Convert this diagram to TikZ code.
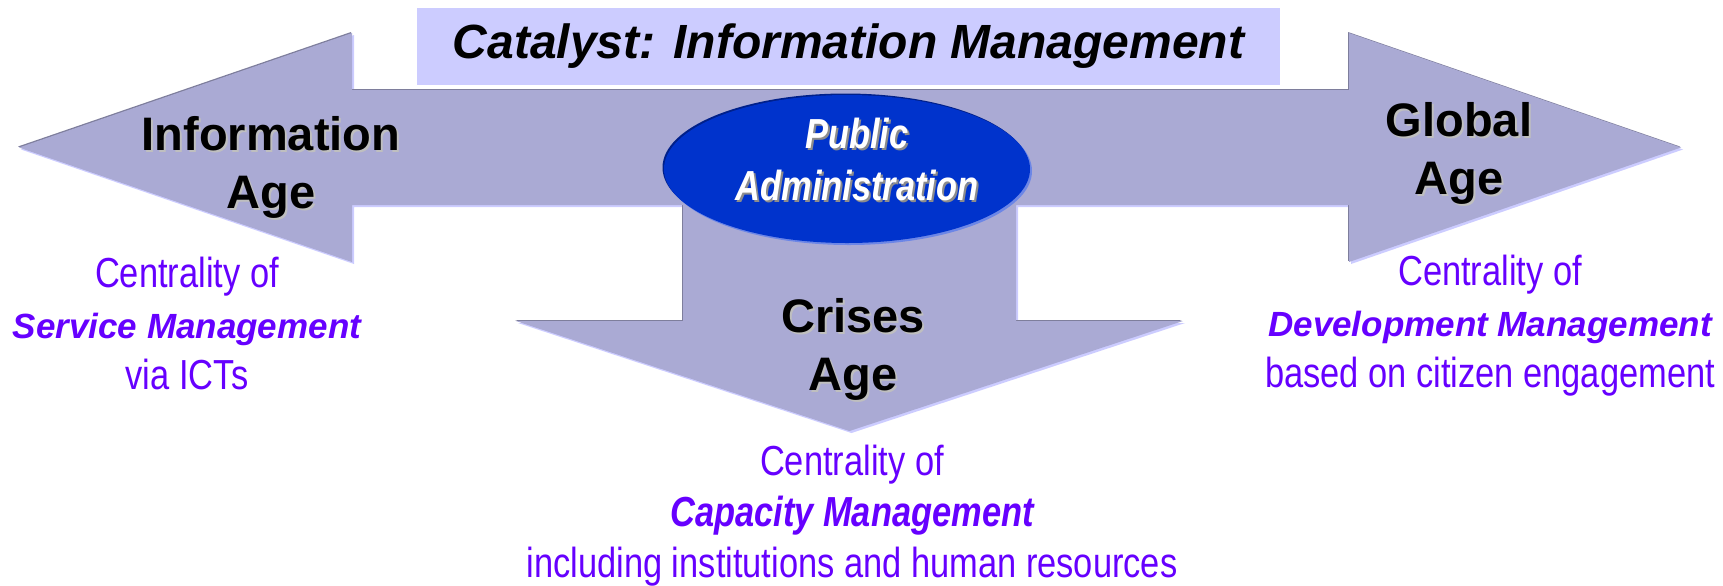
\documentclass[tikz,border=0pt]{standalone}
\usepackage{fontspec}
\setmainfont{Liberation Sans}
\newfontfamily\narrowfont[FakeStretch=0.82]{Liberation Sans}
\usetikzlibrary{shapes.geometric}
\definecolor{arrowfill}{HTML}{AAAAD4}
\definecolor{arrowdark}{HTML}{7E7E9C}
\definecolor{arrowlight}{HTML}{CCCCFF}
\definecolor{titlebox}{HTML}{CCCCFF}
\definecolor{pablue}{HTML}{0033CC}
\definecolor{padark}{HTML}{00208A}
\definecolor{palight}{HTML}{6C86E6}
\definecolor{centviolet}{HTML}{6600FF}
\tikzset{
  agetext/.style={align=center, inner sep=0pt, font=\fontsize{23.5}{29}\selectfont\bfseries},
  padtext/.style={align=center, inner sep=0pt, font=\narrowfont\fontsize{21}{26}\selectfont\bfseries\itshape},
  centtext/.style={align=center, inner sep=0pt, text=centviolet, font=\narrowfont\fontsize{21}{25.5}\selectfont},
}

\begin{document}
\begin{tikzpicture}[x=0.5pt, y=-0.5pt]
\useasboundingbox (0,0) rectangle (1723,585);
% the three-way arrow
\foreach \dx/\dy/\col in {2/2/arrowlight, -1/-1/arrowdark, 0/0/arrowfill} {
    \fill[\col, shift={(\dx,\dy)}] (19,147.5) -- (352,33) -- (352,90) -- (1349,90) -- (1349,33)
        -- (1681,147.5) -- (1349,262) -- (1349,205) -- (1016,205) -- (1016,321) -- (1183,321)
        -- (849.5,431) -- (516,321) -- (683,321) -- (683,205) -- (352,205) -- (352,262) -- cycle;
}
\node[fill=titlebox, minimum width=431.5pt, minimum height=38.5pt, inner sep=0pt,
      font=\fontsize{24}{29}\selectfont\bfseries\itshape] (catalyst) at (848.5,46.5) {Catalyst: Information Management};
% public administration
\foreach \dx/\col in {2/palight, -1.5/padark, 0/pablue} {
    \fill[\col, shift={(\dx,\dx)}] (847,169) ellipse [x radius=183, y radius=74];
}
\node[padtext, text=black!45, shift={(2,2)}] (pubadmin-sh) at (857,159) {Public\\Administration};
\node[padtext, text=white] (pubadmin) at (857,159) {Public\\Administration};
% ages
\node[agetext, text=black!25, shift={(2,2)}] (infoage-sh) at (271,167) {Information\\Age};
\node[agetext] (infoage) at (271,167) {Information\\Age};
\node[agetext, text=black!25, shift={(2,2)}] (globage-sh) at (1459,153.5) {Global\\Age};
\node[agetext] (globage) at (1459,153.5) {Global\\Age};
\node[agetext, text=black!25, shift={(2,2)}] (crisage-sh) at (853,349.5) {Crises\\Age};
\node[agetext] (crisage) at (853,349.5) {Crises\\Age};
% centrality of ...
\node[centtext] (servmgmt) at (187,323) {Centrality of\\{\rmfamily\bfseries\itshape\fontsize{17.5}{25.5}\selectfont Service Management}\\via ICTs};
\node[centtext] (devmgmt) at (1490,326) {Centrality of\\{\rmfamily\bfseries\itshape\fontsize{17.5}{25.5}\selectfont Development Management}\\based on citizen engagement};
\node[centtext] (capmgmt) at (852,516) {Centrality of\\{\bfseries\itshape Capacity Management}\\including institutions and human resources};
\end{tikzpicture}
\end{document}
